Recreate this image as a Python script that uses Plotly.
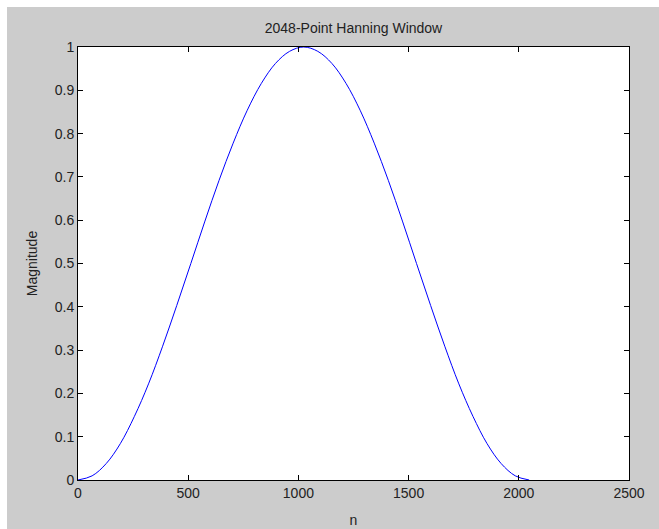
import plotly.graph_objects as go

n_vals = [0, 64, 128, 192, 256, 320, 384, 448, 512, 576, 640, 704, 768, 832, 896, 960,
          1024, 1088, 1152, 1216, 1280, 1344, 1408, 1472, 1536, 1600, 1664, 1728, 1792,
          1856, 1920, 1984, 2047]
magnitude = [0.0, 0.0096, 0.038, 0.084, 0.147, 0.222, 0.309, 0.403, 0.500, 0.598, 0.692,
             0.778, 0.854, 0.916, 0.962, 0.990, 1.000, 0.990, 0.962, 0.916, 0.854, 0.778,
             0.692, 0.598, 0.500, 0.403, 0.309, 0.222, 0.147, 0.084, 0.038, 0.0096, 0.0]

x_ticks = [0, 500, 1000, 1500, 2000, 2500]
y_ticks = [0, 0.1, 0.2, 0.3, 0.4, 0.5, 0.6, 0.7, 0.8, 0.9, 1]
y_ticklabels = ["0", "0.1", "0.2", "0.3", "0.4", "0.5", "0.6", "0.7", "0.8", "0.9", "1"]

fig = go.Figure()
fig.add_trace(go.Scatter(x=n_vals, y=magnitude, mode="lines",
                         line=dict(color="#0000ff", width=1, shape="spline"),
                         showlegend=False, hoverinfo="skip"))

font = dict(family="Liberation Sans, Arial, sans-serif", size=14, color="#222222")
axis_common = dict(showgrid=False, zeroline=False, showline=True, linecolor="black",
                   linewidth=1, mirror="ticks", ticks="inside", ticklen=5,
                   tickcolor="black", tickfont=font, automargin=False)

fig.update_layout(
    width=659, height=529,
    margin=dict(l=78, r=30, t=47, b=49),
    paper_bgcolor="#cccccc", plot_bgcolor="white",
    font=font,
    title=dict(text="2048-Point Hanning Window", x=0.5, xanchor="center",
               xref="paper", y=1, yref="paper", yanchor="bottom", pad=dict(b=14),
               font=dict(family="Liberation Sans, Arial, sans-serif", size=14, color="#222222")),
    xaxis=dict(range=[0, 2500], tickvals=x_ticks, ticktext=[str(v) for v in x_ticks],
               title=dict(text="n", font=font, standoff=15), **axis_common),
    yaxis=dict(range=[0, 1], tickvals=y_ticks, ticktext=y_ticklabels,
               title=dict(text="Magnitude", font=font, standoff=13), **axis_common),
    shapes=[
        dict(type="rect", xref="paper", yref="paper", x0=-0.2, x1=1.2,
             y0=1 + 40 / 434, y1=1.3, fillcolor="white", line=dict(width=0), layer="below"),
        dict(type="rect", xref="paper", yref="paper", x0=-0.2, x1=-71 / 551,
             y0=-0.3, y1=1.3, fillcolor="white", line=dict(width=0), layer="below"),
    ],
)

fig.write_html("out.html")
